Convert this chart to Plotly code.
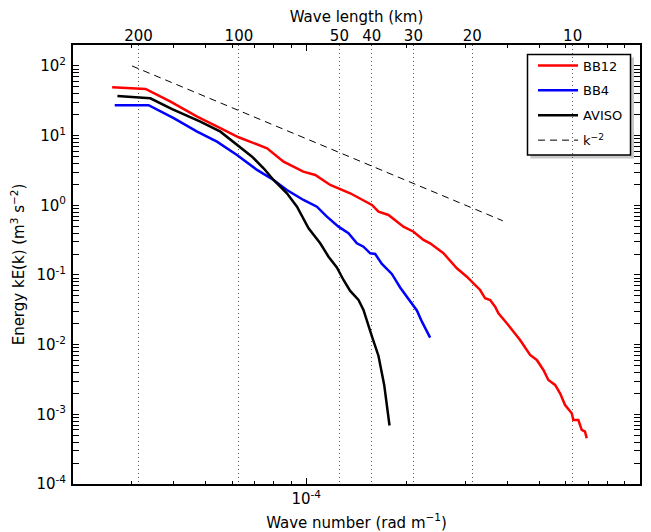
import numpy as np
import plotly.graph_objects as go

# ---- data ----
k_bb12 = [2.62e-5, 3.30e-5, 3.92e-5, 4.71e-5, 5.53e-5, 6.27e-5, 7.63e-5, 8.55e-5, 9.80e-5,
          1.064e-4, 1.18e-4, 1.354e-4, 1.573e-4, 1.646e-4, 1.763e-4, 1.955e-4, 2.096e-4,
          2.245e-4, 2.35e-4, 2.577e-4, 2.826e-4, 3.028e-4, 3.17e-4, 3.319e-4, 3.435e-4,
          3.556e-4, 3.68e-4, 3.765e-4, 3.99e-4, 4.175e-4, 4.372e-4, 4.685e-4, 4.906e-4,
          5.135e-4, 5.314e-4, 5.566e-4, 5.761e-4, 5.963e-4, 6.245e-4, 6.314e-4, 6.535e-4,
          6.689e-4, 6.843e-4, 6.924e-4]
e_bb12 = [49.5, 46.8, 30.7, 18.7, 12.8, 9.48, 6.59, 4.23, 3.04,
          2.73, 1.96, 1.489, 1.011, 0.810, 0.727, 0.494, 0.418,
          0.318, 0.285, 0.205, 0.1248, 0.0946, 0.0760, 0.0609, 0.0463,
          0.0438, 0.0351, 0.0282, 0.0203, 0.01536, 0.01167, 0.00711, 0.00603,
          0.00433, 0.00311, 0.00264, 0.002005, 0.001362, 0.001035, 0.000829, 0.000829,
          0.000596, 0.000564, 0.000453]

k_bb4 = [2.667e-5, 3.37e-5, 4.006e-5, 4.71e-5, 5.40e-5, 6.20e-5, 7.12e-5, 7.98e-5, 8.75e-5,
         9.81e-5, 1.076e-4, 1.153e-4, 1.249e-4, 1.338e-4, 1.418e-4, 1.484e-4, 1.555e-4,
         1.609e-4, 1.685e-4, 1.805e-4, 1.911e-4, 2.048e-4, 2.145e-4, 2.221e-4, 2.35e-4]
e_bb4 = [27.3, 27.3, 17.8, 11.4, 8.19, 5.28, 3.22, 2.31, 1.66,
         1.193, 0.956, 0.687, 0.494, 0.397, 0.285, 0.255, 0.205,
         0.200, 0.1439, 0.1034, 0.0662, 0.0414, 0.0310, 0.02137, 0.0126]

k_aviso = [2.717e-5, 3.41e-5, 3.963e-5, 4.816e-5, 5.53e-5, 6.236e-5, 6.88e-5, 7.45e-5,
           7.98e-5, 8.75e-5, 9.38e-5, 1.016e-4, 1.101e-4, 1.166e-4, 1.235e-4, 1.293e-4,
           1.354e-4, 1.434e-4, 1.484e-4, 1.573e-4, 1.646e-4, 1.712e-4, 1.776e-4]
e_aviso = [37.1, 34.4, 24.0, 15.9, 11.4, 7.35, 4.99, 3.40,
           2.31, 1.489, 0.956, 0.468, 0.285, 0.183, 0.128, 0.0848,
           0.0590, 0.0438, 0.0315, 0.0131, 0.00688, 0.00264, 0.000692]

k_ref = [3.006e-5, 3.88e-4]
e_ref = [100.0, 0.600]

wavelength_km = [200, 100, 50, 40, 30, 20, 10]
x_major = [1e-4, 1e-3]
y_major_exp = [-4, -3, -2, -1, 0, 1, 2]

# ---- figure ----
FONT = "DejaVu Sans"
W, H = 651, 532
ML, MR, MT, MB = 73, 11, 45, 48
PW, PH = W - ML - MR, H - MT - MB
xr = [np.log10(2e-5), -3.0]
yr = [-4.0, np.log10(200)]


def px_x(p):
    return (p - ML) / PW


def px_y(p):
    return (H - MB - p) / PH


fig = go.Figure()
fig.add_trace(go.Scatter(x=k_bb12, y=e_bb12, mode="lines", name="BB12",
                         line=dict(color="#ff0000", width=2.5), legendgroup="a"))
fig.add_trace(go.Scatter(x=k_bb4, y=e_bb4, mode="lines", name="BB4",
                         line=dict(color="#0000ff", width=2.5), legendgroup="b"))
fig.add_trace(go.Scatter(x=k_aviso, y=e_aviso, mode="lines", name="AVISO",
                         line=dict(color="#000000", width=2.5), legendgroup="c"))
fig.add_trace(go.Scatter(x=k_ref, y=e_ref, mode="lines", name="k<sup>\u22122</sup>",
                         line=dict(color="#000000", width=1, dash="7px,5px"), legendgroup="d"))
# invisible trace to anchor the top (wavelength) axis
fig.add_trace(go.Scatter(x=[2e-5], y=[1], xaxis="x2", mode="markers",
                         marker=dict(opacity=0), showlegend=False, hoverinfo="skip"))

minor_x = [m * 10.0 ** e for e in (-5, -4) for m in range(2, 10)]
minor_y = [m * 10.0 ** e for e in range(-4, 3) for m in range(2, 10)]

TITLE_FONT = dict(family=FONT, size=15, color="black")

fig.update_layout(
    width=W, height=H,
    margin=dict(l=ML, r=MR, t=MT, b=MB, autoexpand=False),
    paper_bgcolor="white", plot_bgcolor="white",
    font=dict(family=FONT, size=15, color="black"),
    showlegend=True,
    legend=dict(x=px_x(533), y=px_y(50.5), xanchor="left", yanchor="top",
                bgcolor="rgba(0,0,0,0)", borderwidth=0,
                font=dict(size=13), tracegroupgap=5, itemwidth=40),
    xaxis=dict(type="log", range=xr, tickmode="array", tickvals=x_major,
               ticktext=["10<sup>-4</sup>", "10<sup>-3</sup>"],
               ticks="inside", ticklen=6, tickwidth=1, tickcolor="black",
               minor=dict(tickmode="array", tickvals=minor_x, ticks="inside",
                          ticklen=3, tickwidth=1, tickcolor="black", showgrid=False),
               showgrid=False, zeroline=False, showline=True, linewidth=2,
               linecolor="black", mirror="allticks", automargin=False,
               title=dict(text="Wave number (rad m<sup>\u22121</sup>)", standoff=10,
                          font=TITLE_FONT)),
    xaxis2=dict(type="log", range=xr, overlaying="x", side="top", tickmode="array",
                tickvals=[2 * np.pi / (w * 1000.0) for w in wavelength_km],
                ticktext=[str(w) for w in wavelength_km],
                ticks="", showgrid=True, gridcolor="#555555", gridwidth=1,
                griddash="1px,3px", zeroline=False, showline=False, automargin=False,
                title=dict(text="Wave length (km)", standoff=0, font=TITLE_FONT)),
    yaxis=dict(type="log", range=yr, tickmode="array",
               tickvals=[10.0 ** e for e in y_major_exp],
               ticktext=["10<sup>%d</sup>" % e for e in y_major_exp],
               ticks="inside", ticklen=6, tickwidth=1, tickcolor="black",
               ticklabelstandoff=2,
               minor=dict(tickmode="array", tickvals=minor_y, ticks="inside",
                          ticklen=3, tickwidth=1, tickcolor="black", showgrid=False),
               showgrid=False, zeroline=False, showline=True, linewidth=2,
               linecolor="black", mirror="allticks", automargin=False,
               title=dict(text="Energy kE(k) (m<sup>3</sup> s<sup>\u22122</sup>)", standoff=8,
                          font=TITLE_FONT)),
)

# legend shadow and frame
fig.add_shape(type="rect", xref="paper", yref="paper", layer="below",
              x0=px_x(530.5), x1=px_x(634), y0=px_y(158.5), y1=px_y(57.5),
              fillcolor="#c8c8c8", line=dict(width=0))
fig.add_shape(type="rect", xref="paper", yref="paper", layer="below",
              x0=px_x(527.5), x1=px_x(630.5), y0=px_y(155), y1=px_y(54.5),
              fillcolor="white", line=dict(color="black", width=1.5))

fig.write_html("out.html", config={"displayModeBar": False},
               post_script="document.body.style.margin='0';")
